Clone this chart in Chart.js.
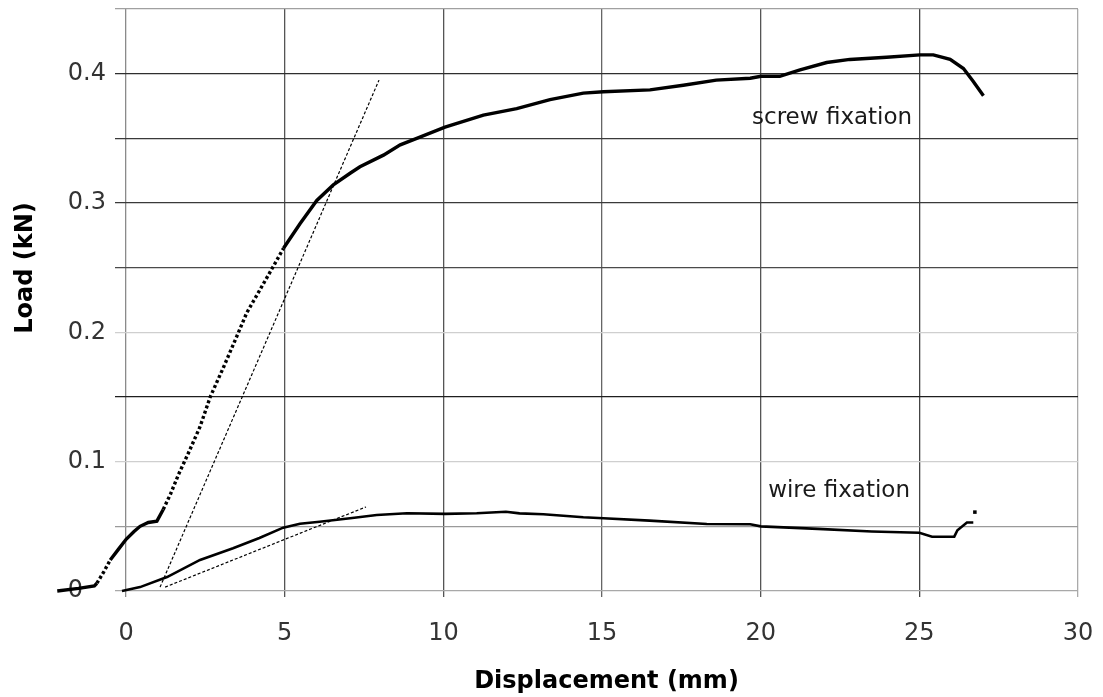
<!DOCTYPE html>
<html>
<head>
<meta charset="utf-8">
<script src="https://cdn.jsdelivr.net/npm/chart.js@4/dist/chart.umd.min.js"></script>
<style>
html,body{margin:0;padding:0;background:#fff;}
#wrap{width:1103px;height:697px;position:relative;}
</style>
</head>
<body>
<div id="wrap"><canvas id="c" width="1103" height="697"></canvas></div>
<script>
// ---- data ----
const screwX = [-2.17,-1.5,-1.0,-0.92,-0.7,-0.5,-0.25,0,0.25,0.44,0.7,0.97,1.17,1.4,1.65,1.96,2.33,2.65,3.07,3.49,3.8,4.22,4.64,4.96,5.48,6.01,6.53,7.06,7.37,8.11,8.64,9.16,10.05,11.26,12.31,13.36,14.41,15.04,16.51,17.56,18.6,19.67,20.01,20.6,21.24,22.08,22.81,23.97,25.02,25.44,25.97,26.39,26.7,27.02];
const screwY = [0,0.002,0.004,0.006,0.015,0.024,0.032,0.040,0.046,0.050,0.053,0.054,0.063,0.075,0.090,0.1065,0.127,0.150,0.173,0.197,0.215,0.233,0.251,0.265,0.284,0.302,0.314,0.323,0.328,0.337,0.345,0.350,0.3586,0.368,0.373,0.380,0.385,0.386,0.3875,0.391,0.395,0.3965,0.398,0.398,0.403,0.4086,0.411,0.4127,0.4145,0.4145,0.411,0.404,0.394,0.383];
const wireX = [-0.13,0.44,1.29,2.33,3.37,4.2,4.95,5.48,6.1,7.06,7.9,8.85,10.05,11.05,11.97,12.4,13.15,14.41,15.04,16.5,18.3,19.67,20.0,21.8,23.5,25.0,25.4,26.1,26.2,26.5,26.7];
const wireY = [0,0.003,0.0108,0.024,0.033,0.041,0.049,0.052,0.0536,0.0562,0.0588,0.0601,0.0596,0.0601,0.0613,0.060,0.0593,0.057,0.0562,0.0544,0.0518,0.0516,0.050,0.048,0.046,0.045,0.042,0.042,0.047,0.053,0.053];
const wireTailX = [26.75];
const wireTailY = [0.061];
const tangentScrewX = [1.07, 7.97];
const tangentScrewY = [0.003, 0.395];
const tangentWireX = [1.23, 7.56];
const tangentWireY = [0.003, 0.065];
const xTicks = [0,5,10,15,20,25,30];
const yGridValues = [0,0.05,0.1,0.15,0.2,0.25,0.3,0.35,0.4,0.45];
const yLabelValues = [0,0.1,0.2,0.3,0.4];
const xTitle = 'Displacement (mm)';
const yTitle = 'Load (kN)';
const seriesLabels = ['screw fixation','wire fixation'];
const labelPos = [[22.25,0.366],[22.47,0.0773]];
const xRange = [-0.35, 30];
const yRange = [0, 0.45];

const pts = (xs, ys) => xs.map((x,i)=>({x:x, y:ys[i]}));

const yGridColor = {0:'#a8a8a8',0.05:'#9a9a9a',0.1:'#cfcfcf',0.15:'#1e1e1e',0.2:'#cfcfcf',0.25:'#4a4a4a',0.3:'#3a3a3a',0.35:'#3a3a3a',0.4:'#2e2e2e',0.45:'#a0a0a0'};
const xGridColor = {0:'#8a8a8a',5:'#555',10:'#555',15:'#666',20:'#555',25:'#444',30:'#aaa'};

const FONT = 'DejaVu Sans, Verdana, sans-serif';

const overlay = {
  id:'overlay',
  afterDatasetsDraw(chart){
    const ctx = chart.ctx, xs = chart.scales.x, ys = chart.scales.y, a = chart.chartArea;
    ctx.save();
    ctx.fillStyle = '#1a1a1a';
    ctx.font = '23px ' + FONT;
    ctx.textAlign = 'center';
    ctx.textBaseline = 'middle';
    seriesLabels.forEach((t,i)=>{
      ctx.fillText(t, xs.getPixelForValue(labelPos[i][0]), ys.getPixelForValue(labelPos[i][1]));
    });
    ctx.fillStyle = '#000';
    ctx.font = 'bold 24px ' + FONT;
    ctx.fillText(xTitle, (a.left + a.right)/2 + 10, a.bottom + 91);
    ctx.translate(26, (a.top + a.bottom)/2 - 32);
    ctx.rotate(-Math.PI/2);
    ctx.fillText(yTitle, 0, 0);
    ctx.restore();
  }
};

new Chart(document.getElementById('c'), {
  type:'line',
  data:{
    datasets:[
      {label:'screw fixation', data:pts(screwX,screwY), borderColor:'#000', borderWidth:3.4, pointRadius:0, tension:0, clip:false,
       segment:{borderDash: c => ((c.p0.parsed.x>=1.0 && c.p1.parsed.x<=5.0) || (c.p0.parsed.x>=-0.95 && c.p1.parsed.x<=-0.45)) ? [3,2.5] : undefined}},
      {label:'wire fixation', data:pts(wireX,wireY), borderColor:'#000', borderWidth:2.6, pointRadius:0, tension:0, clip:false},
      {label:'wire tail', data:pts(wireTailX,wireTailY), showLine:false, pointStyle:'rect', pointRadius:2.5, backgroundColor:'#000', borderColor:'#000', borderWidth:0, clip:false},
      {label:'tangent screw', data:pts(tangentScrewX,tangentScrewY), borderColor:'#000', borderWidth:1.2, borderDash:[3,2], pointRadius:0, clip:false},
      {label:'tangent wire', data:pts(tangentWireX,tangentWireY), borderColor:'#000', borderWidth:1.2, borderDash:[3,2], pointRadius:0, clip:false}
    ]
  },
  options:{
    responsive:false,
    animation:false,
    events:[],
    layout:{padding:{left:0,right:25,top:9,bottom:0}},
    plugins:{legend:{display:false}, tooltip:{enabled:false}},
    scales:{
      x:{
        type:'linear', bounds:'data',
        afterDataLimits: s => { s.min = xRange[0]; s.max = xRange[1]; },
        afterBuildTicks: s => { s.ticks = xTicks.map(v=>({value:v})); s.min = xRange[0]; s.max = xRange[1]; },
        afterFit: s => { s.height = 106; s.paddingLeft = 0; s.paddingRight = 0; },
        border:{display:false},
        grid:{color: c => xGridColor[c.tick.value] || '#777', lineWidth:1.3, drawTicks:true, tickLength:6, tickColor: c => xGridColor[c.tick.value] || '#777'},
        ticks:{font:{family:FONT,size:24}, color:'#333', padding:22, maxRotation:0, callback:v=>String(v)}
      },
      y:{
        type:'linear', bounds:'data',
        afterDataLimits: s => { s.min = yRange[0]; s.max = yRange[1]; },
        afterBuildTicks: s => { s.ticks = yGridValues.map(v=>({value:v})); s.min = yRange[0]; s.max = yRange[1]; },
        afterFit: s => { s.width = 115; s.paddingTop = 0; s.paddingBottom = 0; },
        border:{display:false},
        grid:{color: c => yGridColor[c.tick.value] || '#999', lineWidth:1.3, drawTicks:false},
        ticks:{font:{family:FONT,size:24}, color:'#333', padding:9,
          callback: v => { const r = Math.round(v*100)/100; if (!yLabelValues.some(l=>Math.abs(l-r)<1e-9)) return ''; return r===0 ? '0\u2008\u2007' : String(r); }}
      }
    }
  },
  plugins:[overlay]
});
</script>
</body>
</html>
